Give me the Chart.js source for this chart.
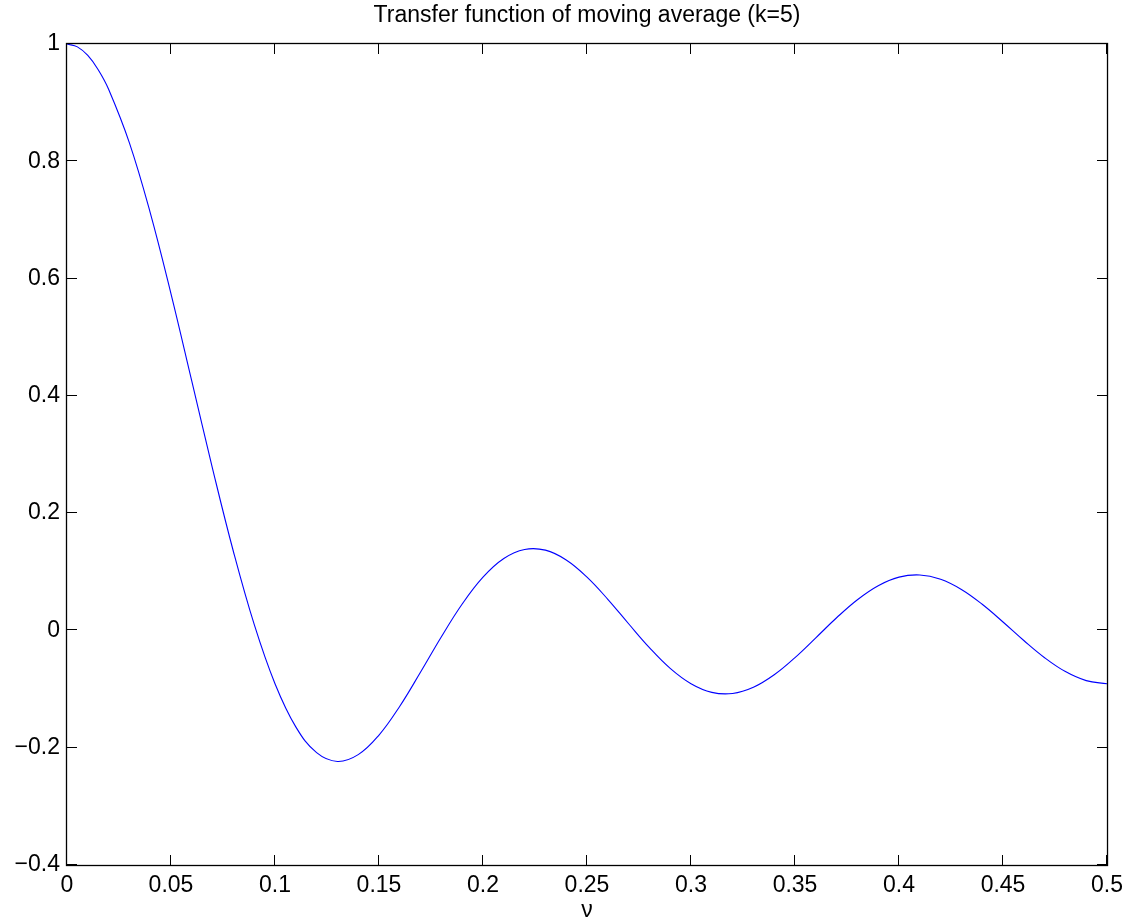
<!DOCTYPE html>
<html>
<head>
<meta charset="utf-8">
<script src="https://cdn.jsdelivr.net/npm/chart.js@4.4.1/dist/chart.umd.min.js"></script>
<style>
  html, body { margin: 0; padding: 0; background: #fff; }
  #wrap { width: 1130px; height: 924px; }
</style>
</head>
<body>
<div id="wrap"><canvas id="chart" width="1130" height="924"></canvas></div>
<script>
// frequency (nu) and transfer function values
var nu = [0, 0.005, 0.01, 0.015, 0.02, 0.03, 0.04, 0.05, 0.06, 0.07, 0.08, 0.09,
          0.10, 0.11, 0.12, 0.13, 0.14, 0.15, 0.16, 0.17, 0.18, 0.19,
          0.20, 0.21, 0.22, 0.23, 0.24, 0.25, 0.26, 0.27, 0.28, 0.29,
          0.30, 0.31, 0.32, 0.33, 0.34, 0.35, 0.36, 0.37, 0.38, 0.39,
          0.40, 0.41, 0.42, 0.43, 0.44, 0.45, 0.46, 0.47, 0.48, 0.49, 0.50];
var response = [1, 0.9951, 0.9804, 0.9562, 0.9229, 0.8315, 0.7125, 0.5740, 0.4252, 0.2756, 0.1346, 0.0102,
                -0.0909, -0.1645, -0.2085, -0.2234, -0.2118, -0.1784, -0.1292, -0.0709, -0.0107, 0.0451,
                0.0909, 0.1227, 0.1381, 0.1369, 0.1202, 0.0909, 0.0531, 0.0114, -0.0293, -0.0647,
                -0.0909, -0.1056, -0.1075, -0.0969, -0.0756, -0.0463, -0.0126, 0.0216, 0.0524, 0.0763,
                0.0909, 0.0946, 0.0873, 0.0699, 0.0446, 0.0144, -0.0172, -0.0465, -0.0702, -0.0856, -0.0909];

var xTickValues = [0, 0.05, 0.1, 0.15, 0.2, 0.25, 0.3, 0.35, 0.4, 0.45, 0.5];
var yTickValues = [-0.4, -0.2, 0, 0.2, 0.4, 0.6, 0.8, 1];

var titleText = 'Transfer function of moving average (k=5)';
var xLabel = '\u03bd';

var FONT = '"Liberation Sans", Arial, Helvetica, sans-serif';
Chart.defaults.font.family = FONT;
Chart.defaults.color = '#000';

// matlab style box with inward ticks on all four sides, title centred over the axes
var boxTicks = {
  id: 'boxTicks',
  afterDraw: function (chart) {
    var ctx = chart.ctx, a = chart.chartArea;
    var xs = chart.scales.x, ys = chart.scales.y;
    var len = 10;
    ctx.save();
    ctx.strokeStyle = '#000';
    ctx.lineWidth = 1;
    ctx.beginPath();
    xs.ticks.forEach(function (t) {
      var px = Math.round(xs.getPixelForValue(t.value)) - 0.5;
      ctx.moveTo(px, a.bottom); ctx.lineTo(px, a.bottom - len);
      ctx.moveTo(px, a.top); ctx.lineTo(px, a.top + len);
    });
    ys.ticks.forEach(function (t) {
      var py = Math.round(ys.getPixelForValue(t.value)) - 0.5;
      ctx.moveTo(a.left, py); ctx.lineTo(a.left + len, py);
      ctx.moveTo(a.right, py); ctx.lineTo(a.right - len, py);
    });
    ctx.stroke();
    ctx.lineWidth = 1.3;
    ctx.strokeRect(a.left - 0.5, a.top - 0.5, a.right - a.left + 1, a.bottom - a.top + 1);

    ctx.fillStyle = '#000';
    ctx.font = '23px ' + FONT;
    ctx.textAlign = 'center';
    ctx.textBaseline = 'middle';
    ctx.fillText(titleText, (a.left + a.right) / 2, 16);
    ctx.restore();
  }
};

function fmt(v) {
  return String(+v.toFixed(2)).replace('-', '\u2212');
}

new Chart(document.getElementById('chart'), {
  type: 'line',
  data: {
    datasets: [{
      data: nu.map(function (x, i) { return { x: x, y: response[i] }; }),
      borderColor: '#0000ff',
      borderWidth: 1.1,
      pointRadius: 0,
      tension: 0.4,
      fill: false
    }]
  },
  options: {
    responsive: false,
    animation: false,
    layout: { padding: { left: 0, top: 44, right: 22, bottom: 0 } },
    plugins: {
      legend: { display: false },
      tooltip: { enabled: false },
      title: { display: false }
    },
    scales: {
      x: {
        type: 'linear',
        min: 0,
        max: 0.5,
        afterBuildTicks: function (s) { s.ticks = xTickValues.map(function (v) { return { value: v }; }); },
        afterFit: function (s) { s.height = 59; },
        grid: { display: false, drawTicks: false },
        border: { display: false },
        ticks: { padding: 7, maxRotation: 0, autoSkip: false, font: { size: 23 }, callback: fmt },
        title: { display: true, text: xLabel, font: { size: 23 }, padding: { top: 0, bottom: 0 } }
      },
      y: {
        type: 'linear',
        min: -0.4,
        max: 1,
        afterBuildTicks: function (s) { s.ticks = yTickValues.map(function (v) { return { value: v }; }); },
        afterFit: function (s) { s.width = 67; },
        grid: { display: false, drawTicks: false },
        border: { display: false },
        ticks: { padding: 7, autoSkip: false, font: { size: 23 }, callback: fmt }
      }
    }
  },
  plugins: [boxTicks]
});
</script>
</body>
</html>
